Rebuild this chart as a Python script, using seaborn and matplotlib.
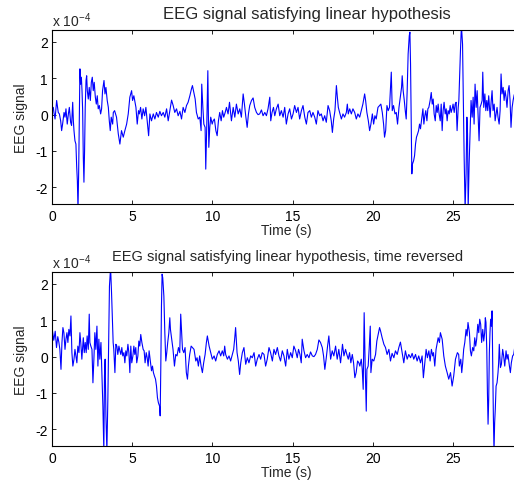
import numpy as np
import pandas as pd
import matplotlib
matplotlib.use('Agg')
import matplotlib.pyplot as plt
import seaborn as sns

# EEG trace: time (s) and amplitude (x 1e-4)
eeg_time = [
    0.00, 0.08, 0.12, 0.19, 0.29, 0.39, 0.46, 0.54, 0.60, 0.66, 0.75, 0.81, 0.87, 0.95,
    1.02, 1.08, 1.16, 1.22, 1.29, 1.33, 1.37, 1.43, 1.49, 1.54, 1.58, 1.62, 1.66, 1.70,
    1.74, 1.78, 1.83, 1.87, 1.91, 1.95, 1.99, 2.03, 2.07, 2.12, 2.16, 2.20, 2.26, 2.32,
    2.39, 2.45, 2.51, 2.57, 2.63, 2.70, 2.76, 2.82, 2.88, 2.95, 3.03, 3.09, 3.15, 3.24,
    3.30, 3.36, 3.44, 3.51, 3.57, 3.63, 3.69, 3.78, 3.82, 3.90, 4.02, 4.13, 4.23, 4.33,
    4.44, 4.54, 4.65, 4.75, 4.85, 4.96, 5.02, 5.10, 5.23, 5.31, 5.39, 5.44, 5.52, 5.60,
    5.68, 5.77, 5.85, 5.93, 6.02, 6.10, 6.20, 6.31, 6.41, 6.51, 6.62, 6.72, 6.82, 6.93,
    7.03, 7.14, 7.24, 7.34, 7.45, 7.55, 7.65, 7.76, 7.86, 7.97, 8.07, 8.17, 8.28, 8.38,
    8.48, 8.59, 8.69, 8.75, 8.84, 8.92, 9.00, 9.11, 9.21, 9.29, 9.33, 9.40, 9.46, 9.54,
    9.58, 9.65, 9.71, 9.77, 9.83, 9.89, 9.98, 10.04, 10.12, 10.21, 10.29, 10.37, 10.45,
    10.54, 10.62, 10.70, 10.79, 10.87, 10.97, 11.06, 11.18, 11.29, 11.39, 11.49, 11.60,
    11.70, 11.80, 11.91, 11.99, 12.07, 12.16, 12.24, 12.32, 12.43, 12.53, 12.63, 12.74,
    12.84, 12.94, 13.05, 13.15, 13.26, 13.36, 13.46, 13.57, 13.63, 13.71, 13.80, 13.88,
    13.98, 14.09, 14.19, 14.29, 14.40, 14.50, 14.60, 14.71, 14.81, 14.92, 15.02, 15.12,
    15.23, 15.33, 15.43, 15.54, 15.64, 15.75, 15.85, 15.95, 16.06, 16.16, 16.26, 16.37,
    16.47, 16.57, 16.68, 16.78, 16.89, 16.99, 17.09, 17.20, 17.30, 17.40, 17.47, 17.55,
    17.63, 17.72, 17.78, 17.84, 17.92, 18.03, 18.13, 18.23, 18.34, 18.40, 18.46, 18.55,
    18.65, 18.75, 18.86, 18.96, 19.06, 19.17, 19.27, 19.37, 19.48, 19.54, 19.62, 19.71,
    19.79, 19.87, 19.96, 20.04, 20.12, 20.20, 20.31, 20.41, 20.49, 20.58, 20.66, 20.72,
    20.79, 20.87, 20.95, 21.03, 21.14, 21.20, 21.28, 21.37, 21.45, 21.53, 21.62, 21.70,
    21.78, 21.82, 21.88, 21.95, 22.01, 22.07, 22.13, 22.19, 22.26, 22.30, 22.34, 22.38,
    22.42, 22.46, 22.53, 22.59, 22.65, 22.71, 22.78, 22.84, 22.90, 22.96, 23.02, 23.11,
    23.17, 23.23, 23.29, 23.36, 23.42, 23.48, 23.56, 23.63, 23.69, 23.75, 23.81, 23.88,
    23.94, 24.00, 24.06, 24.12, 24.19, 24.25, 24.31, 24.37, 24.43, 24.50, 24.56, 24.62,
    24.68, 24.75, 24.81, 24.87, 24.93, 24.99, 25.06, 25.12, 25.18, 25.24, 25.31, 25.35,
    25.39, 25.45, 25.51, 25.58, 25.62, 25.68, 25.74, 25.80, 25.85, 25.89, 25.93, 25.99,
    26.05, 26.11, 26.18, 26.24, 26.30, 26.36, 26.43, 26.49, 26.55, 26.61, 26.67, 26.74,
    26.80, 26.84, 26.90, 26.97, 27.03, 27.09, 27.15, 27.21, 27.30, 27.36, 27.42, 27.48,
    27.55, 27.61, 27.67, 27.73, 27.79, 27.86, 27.92, 27.98, 28.04, 28.11, 28.17, 28.23,
    28.29, 28.35, 28.42, 28.48, 28.54, 28.60, 28.67, 28.73, 28.80, 28.88, 28.96, 29.05,
    29.16,
]
eeg_value = [
    0.20, 0.20, 0.06, -0.12, 0.39, 0.06, 0.02, -0.17, -0.44, -0.26, 0.06, -0.07, 0.16, -0.26,
    0.02, 0.20, -0.21, -0.30, 0.34, -0.17, -0.44, -0.72, -0.81, -1.45, -1.82, -2.60, -1.63, -0.26,
    1.26, 0.84, 1.03, 0.66, 0.11, -1.17, -1.86, -0.99, 0.20, 0.94, 1.07, 0.66, 0.43, 0.75,
    0.39, 0.89, 1.03, 0.66, 0.89, 0.48, 0.29, 0.52, 0.16, 0.25, 0.02, 0.16, 0.66, 0.94,
    0.57, 0.75, 0.39, 0.20, -0.17, -0.44, -0.07, -0.26, 0.06, 0.11, -0.07, -0.53, -0.81, -0.44,
    -0.62, -0.44, -0.26, 0.02, 0.48, 0.66, 0.39, 0.52, 0.20, -0.26, 0.11, 0.02, 0.20, -0.12,
    0.16, -0.03, 0.20, -0.17, -0.58, 0.02, -0.17, 0.02, -0.12, 0.06, -0.07, 0.09, -0.03, 0.06,
    -0.07, 0.16, -0.17, 0.11, 0.40, 0.25, 0.06, 0.16, -0.03, 0.09, -0.12, 0.20, 0.06, 0.25,
    0.34, 0.52, 0.71, 0.80, 0.61, 0.43, 0.06, -0.12, -0.07, -0.44, 0.84, 0.20, -0.26, -0.35,
    -1.50, -0.17, 1.21, -0.90, -0.35, -0.07, -0.26, -0.17, -0.12, -0.44, -0.58, -0.17, 0.06,
    -0.17, 0.11, -0.07, 0.06, 0.20, 0.02, 0.34, -0.17, 0.20, -0.07, 0.29, 0.02,
    0.16, -0.07, 0.57, 0.29, -0.03, -0.35, 0.02, 0.25, 0.39, 0.46, 0.20, 0.06,
    0.00, 0.02, 0.13, -0.03, 0.06, -0.03, 0.16, 0.48, -0.17, 0.06, 0.20, -0.03,
    0.16, 0.29, -0.03, 0.11, -0.07, 0.20, -0.26, 0.02, 0.16, -0.12, 0.02, 0.25,
    0.06, 0.20, -0.12, 0.11, 0.25, -0.07, -0.26, 0.06, 0.11, -0.07, 0.06, -0.07,
    -0.26, 0.11, -0.03, 0.02, -0.17, -0.03, -0.21, 0.25, 0.11, -0.17, -0.49, -0.12,
    0.11, 0.80, 0.48, 0.20, 0.06, -0.12, 0.02, -0.07, 0.06, 0.29, 0.02, 0.16,
    0.02, 0.16, 0.06, -0.12, 0.02, -0.07, 0.11, 0.29, 0.57, 0.39, 0.06, -0.17,
    -0.44, -0.26, 0.02, -0.26, -0.03, -0.12, 0.20, 0.25, 0.29, 0.06, -0.26, -0.62,
    -0.44, 0.25, 0.11, 0.20, 1.17, 0.11, 0.25, 0.02, 0.06, -0.26, 0.20, 0.48,
    0.75, 1.07, 0.66, 0.39, 0.11, -0.12, 0.66, 1.67, 2.17, 2.27, 1.39, -0.26,
    -1.63, -1.36, -1.27, -1.13, -0.81, -0.62, -0.53, -0.44, -0.26, -0.39, -0.17, 0.16,
    -0.26, -0.03, 0.11, -0.17, 0.16, 0.20, 0.39, 0.61, 0.29, 0.43, 0.02, -0.17,
    0.25, 0.06, 0.29, 0.02, -0.17, 0.29, -0.44, 0.11, 0.34, 0.02, 0.16, -0.17,
    0.11, 0.02, 0.25, 0.06, 0.16, 0.29, 0.06, 0.29, 0.34, -0.44, 0.20, 0.39,
    0.94, 1.76, 2.45, 1.94, 0.66, -1.17, -2.60, -1.63, -0.07, -0.53, -2.60, -1.36,
    -0.53, 0.39, -0.07, 0.48, -0.26, 0.84, 0.20, 0.66, -0.07, -0.72, 0.20, 0.29,
    0.39, 1.17, 0.20, 0.57, 0.11, 0.39, 0.11, 0.52, -0.07, 0.34, 0.66, 0.11,
    0.29, -0.17, 0.02, 0.20, -0.07, -0.26, 0.11, 1.12, 0.57, 0.75, 0.39, 0.66,
    0.48, 0.20, 0.66, 0.80, 0.39, -0.35, 0.20, 0.39, 0.55, 0.25, 0.70, 0.45,
    0.80,
]
record_length = 29.16   # duration of the record, the second panel is mirrored about it
x_ticks = [0, 5, 10, 15, 20, 25]
y_ticks = [-2, -1, 0, 1, 2]
y_range = (-2.46, 2.33)
titles = ['EEG signal satisfying linear hypothesis',
          'EEG signal satisfying linear hypothesis, time reversed']
title_size = [12, 10.5]
title_x = [307, 288]   # title centres in px

sns.set_style('ticks')
plt.rcParams['font.family'] = ['Liberation Sans', 'DejaVu Sans']
plt.rcParams.update({
    'font.size': 10,
    'mathtext.default': 'regular',
    'axes.unicode_minus': False,
    'axes.linewidth': 0.8,
    'axes.edgecolor': 'black',
    'xtick.direction': 'in', 'ytick.direction': 'in',
    'xtick.top': True, 'ytick.right': True,
    'xtick.major.size': 3, 'ytick.major.size': 3,
    'xtick.major.width': 0.6, 'ytick.major.width': 0.6,
    'xtick.major.pad': 3.5, 'ytick.major.pad': 3,
    'xtick.color': 'black', 'ytick.color': 'black',
})

t = np.array(eeg_time)
v = np.array(eeg_value)
forward = pd.DataFrame({'time': t, 'eeg': v})
reverse = pd.DataFrame({'time': record_length - t[::-1], 'eeg': v[::-1]})

W, H = 514, 485
fig = plt.figure(figsize=(W / 100, H / 100), dpi=100)

for i, (df, title) in enumerate(zip([forward, reverse], titles)):
    top = 31 + 242 * i
    ax = fig.add_axes([52 / W, 1 - (top + 174) / H, 468 / W, 174 / H])
    sns.lineplot(data=df, x='time', y='eeg', ax=ax, color='blue', lw=0.8,
                 estimator=None, sort=False)
    ax.set_xlim(0, record_length)
    ax.set_ylim(*y_range)
    ax.set_xticks(x_ticks)
    ax.set_yticks(y_ticks)
    ax.set_xlabel('Time (s)', fontsize=10)
    ax.set_ylabel('EEG signal', fontsize=10)
    ax.xaxis.set_label_coords(0.5, -19 / 174)
    ax.xaxis.label.set_va('top')
    ax.yaxis.set_label_coords(-24 / 468, 0.5)
    ax.text((title_x[i] - 52) / 468, 1 + 12 / 174, title, transform=ax.transAxes,
            ha='center', va='baseline', fontsize=title_size[i])
    ax.text(0, 1 + 4 / 174, r'x 10$^{-4}$', transform=ax.transAxes,
            ha='left', va='baseline', fontsize=10)

fig.savefig('out.png', dpi=100)
